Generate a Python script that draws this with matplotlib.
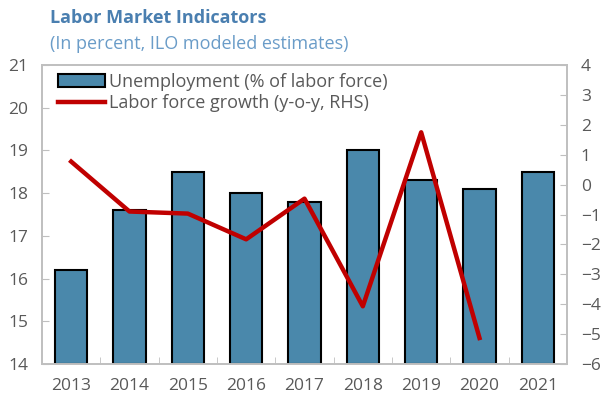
import matplotlib
matplotlib.use('Agg')
import matplotlib.pyplot as plt
import numpy as np

plt.rcParams['font.family'] = ['Open Sans', 'DejaVu Sans']

years = ['2013', '2014', '2015', '2016', '2017', '2018', '2019', '2020', '2021']
unemployment = [16.2, 17.6, 18.5, 18.0, 17.8, 19.0, 18.3, 18.1, 18.5]
lf_growth = [0.77, -0.9, -0.97, -1.83, -0.47, -4.07, 1.75, -5.13]

grey = '#595959'
spine = '#bfbfbf'

fig = plt.figure(figsize=(6.03, 4.08), dpi=100)
ax = fig.add_axes([42 / 603, 1 - 364 / 408, 525 / 603, 299 / 408])
x = np.arange(len(years))

bars = ax.bar(x, [u - 14 for u in unemployment], bottom=14, width=0.55,
              color='#4a88ab', edgecolor='black', linewidth=1.5,
              label='Unemployment (% of labor force)', zorder=2)
ax.set_ylim(14, 21)
ax.set_xlim(-0.5, len(years) - 0.5)
ax.set_yticks(range(14, 22))
ax.set_xticks(x)
ax.set_xticklabels(years)
ax.set_xticks(np.arange(0.5, len(years) - 1, 1), minor=True)
ax.tick_params(axis='x', which='major', length=0, pad=10, labelsize=12.5, colors=grey)
ax.tick_params(axis='x', which='minor', length=5, direction='in', color=spine)
ax.tick_params(axis='y', direction='in', length=5, color=spine, labelsize=12.5,
               labelcolor=grey, pad=10)

ax2 = ax.twinx()
line, = ax2.plot(x[:len(lf_growth)], lf_growth, color='#c00000', linewidth=3.2,
                 label='Labor force growth (y-o-y, RHS)', zorder=3)
ax2.set_ylim(-6, 4)
ax2.set_yticks(range(-6, 5))
ax2.tick_params(axis='y', direction='in', length=5, color=spine, labelsize=12.5,
                labelcolor=grey, pad=10)

for a in (ax, ax2):
    for s in a.spines.values():
        s.set_color(spine)
        s.set_linewidth(1.2)

ax2.legend([bars, line], [bars.get_label(), line.get_label()], loc='upper left',
           bbox_to_anchor=(0.01, 1.01), frameon=False, fontsize=13,
           labelcolor=grey, handlelength=2.6, handletextpad=0.2,
           borderaxespad=0.2, labelspacing=0.2)

fig.text(50 / 603, 1 - 18 / 408, 'Labor Market Indicators', color='#4a7fb0',
         fontsize=13, fontweight='bold', va='center')
fig.text(50 / 603, 1 - 44 / 408, '(In percent, ILO modeled estimates)',
         color='#6a9cc8', fontsize=13, va='center')

fig.savefig('out.png', dpi=100)
